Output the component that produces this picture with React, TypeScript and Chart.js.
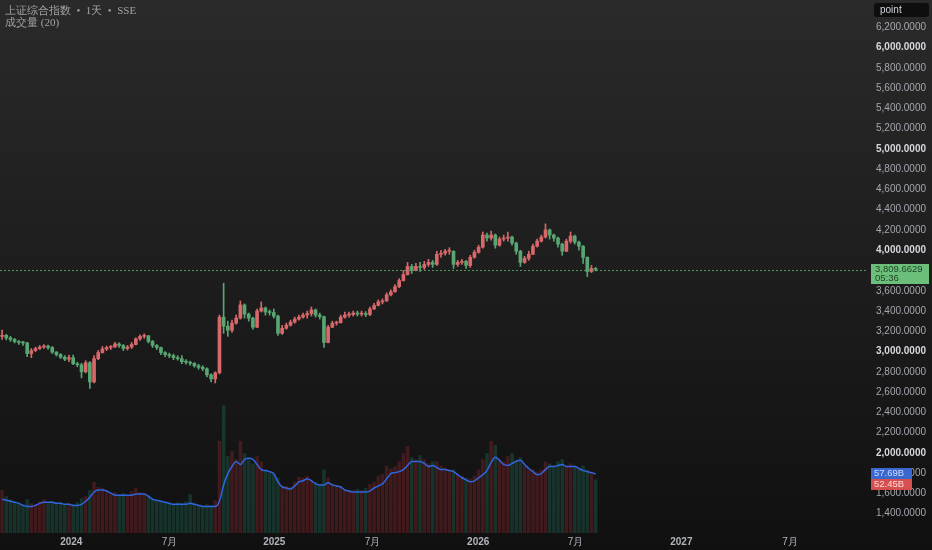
import React, { useEffect, useRef } from "react";
import { Chart, registerables } from "chart.js";
Chart.register(...registerables);

const opens = [3150,3160,3135,3120,3100,3090,3085,2980,3010,3030,3045,3055,3040,2995,2970,2945,2925,2940,2880,2870,2800,2890,2700,2930,2990,3025,3040,3045,3075,3060,3030,3045,3070,3125,3150,3155,3100,3060,3040,2990,2970,2960,2940,2930,2900,2895,2885,2860,2845,2830,2770,2730,2790,3340,3250,3210,3280,3330,3460,3370,3330,3240,3400,3430,3390,3385,3350,3180,3230,3260,3290,3320,3340,3360,3375,3410,3360,3345,3090,3240,3280,3285,3340,3360,3365,3380,3370,3375,3365,3420,3455,3490,3500,3560,3590,3640,3700,3760,3840,3800,3840,3830,3860,3880,3860,3960,3970,3990,3990,3860,3880,3890,3850,3930,3980,4030,4150,4120,4150,4050,4110,4120,4130,4070,3990,3880,3920,3960,4040,4090,4130,4200,4150,4120,4060,3990,4090,4140,4080,4040,3930,3790,3820];
const highs = [3213,3170,3150,3130,3110,3100,3090,3030,3045,3060,3070,3065,3050,3000,2980,2960,2965,2965,2895,2885,2910,2900,2960,3010,3050,3055,3060,3090,3085,3070,3060,3090,3135,3165,3175,3160,3110,3070,3045,3000,2985,2975,2960,2960,2920,2905,2890,2875,2860,2840,2780,2800,3360,3674,3300,3310,3360,3500,3470,3380,3340,3420,3490,3440,3410,3420,3360,3260,3280,3310,3340,3360,3380,3400,3440,3420,3380,3350,3260,3300,3300,3360,3390,3390,3400,3400,3400,3395,3440,3475,3510,3520,3580,3610,3660,3720,3800,3880,3860,3870,3880,3890,3910,3900,3990,4000,4010,4025,3995,3900,3910,3900,3950,4000,4050,4180,4170,4190,4160,4130,4150,4180,4140,4080,4000,3940,3990,4060,4110,4150,4260,4210,4160,4130,4070,4110,4180,4150,4090,4045,3935,3850,3830];
const lows = [3120,3115,3100,3085,3070,3060,2950,2940,3000,3020,3030,3020,2980,2955,2930,2910,2900,2870,2850,2740,2790,2635,2690,2920,2985,3010,3020,3040,3040,3010,3015,3030,3065,3110,3130,3085,3040,3020,2970,2950,2940,2920,2915,2880,2875,2865,2845,2825,2810,2750,2700,2690,2780,3180,3150,3190,3270,3320,3330,3300,3220,3235,3390,3360,3360,3330,3160,3170,3220,3250,3280,3310,3330,3330,3350,3340,3320,3040,3085,3235,3260,3280,3330,3340,3350,3350,3350,3345,3355,3415,3450,3470,3495,3550,3585,3630,3695,3755,3770,3795,3790,3810,3840,3830,3850,3930,3950,3960,3820,3840,3860,3820,3830,3920,3970,4020,4090,4100,4020,4040,4090,4090,4050,3960,3840,3870,3900,3955,4030,4080,4120,4110,4090,4030,3950,3985,4070,4060,4000,3870,3740,3780,3795];
const closes = [3160,3135,3120,3100,3090,3085,2980,3010,3030,3045,3055,3040,2995,2970,2945,2925,2940,2880,2870,2800,2890,2700,2930,2990,3025,3040,3045,3075,3060,3030,3045,3070,3125,3150,3155,3100,3060,3040,2990,2970,2960,2940,2930,2900,2895,2885,2860,2845,2830,2770,2730,2790,3340,3250,3210,3280,3330,3460,3370,3330,3240,3400,3430,3390,3385,3350,3180,3230,3260,3290,3320,3340,3360,3375,3410,3360,3345,3090,3240,3280,3285,3340,3360,3365,3380,3370,3375,3365,3420,3455,3490,3500,3560,3590,3640,3700,3760,3840,3800,3840,3830,3860,3880,3860,3960,3970,3990,3990,3860,3880,3890,3850,3930,3980,4030,4150,4120,4150,4050,4110,4120,4130,4070,3990,3880,3920,3960,4040,4090,4130,4200,4150,4120,4060,3990,4090,4140,4080,4040,3930,3790,3820,3809.6629];
// Volume (billions) and its 20-day moving average
const volumes = [42,36,33,31,30,28,33,29,28,31,33,30,31,29,30,28,29,28,30,34,36,42,50,45,44,40,38,40,36,39,37,41,44,40,39,36,33,32,31,30,29,28,30,29,31,38,30,28,27,28,27,32,90,125,75,80,72,90,78,72,68,75,70,62,60,58,54,47,46,45,50,55,54,56,52,50,48,62,54,48,47,46,43,42,42,43,42,44,48,50,56,58,66,63,65,70,78,85,74,72,76,72,68,70,70,66,64,62,62,58,56,54,53,56,62,72,78,90,86,72,70,75,78,72,74,66,62,62,60,62,70,68,66,70,72,66,68,66,64,66,62,60,52.45];
const volumeMA = [33,32,31,30,29,27,26,26,27,29,30,30,30,29,29,28,28,27,27,28,31,35,40,42,42,41,39,37,37,37,37,37,38,38,38,36,33,32,31,30,29,28,28,28,28,29,28,27,26,26,26,26,31,47,58,65,70,67,72,73,72,67,62,61,60,58,50,45,44,43,46,50,51,53,51,48,47,47,49,47,46,45,42,41,40,40,40,40,41,44,46,48,53,58,59,60,62,66,70,70,70,68,65,66,64,62,62,61,60,57,54,52,50,51,54,57,61,69,74,71,67,66,68,70,71,67,63,60,57,58,62,65,65,66,67,65,65,65,63,61,60,59,57.69];

const xTickPos = [17.06, 40.55, 65.62, 89.11, 114.4, 137.66, 163.0, 189.0];
const xTickLabels = ["2024", "7月", "2025", "7月", "2026", "7月", "2027", "7月"];
const priceTicks = [1400,1600,1800,2000,2200,2400,2600,2800,3000,3200,3400,3600,3800,4000,4200,4400,4600,4800,5000,5200,5400,5600,5800,6000,6200];

const UP = "#d9686a";
const DOWN = "#58a672";
const VOL_UP = "rgba(140,40,45,0.38)";
const VOL_DOWN = "rgba(35,105,88,0.38)";
const FONT = "'Liberation Sans', Arial, sans-serif";

export default function App() {
  const ref = useRef<HTMLCanvasElement>(null);
  useEffect(() => {
    const canvas = ref.current!;
    const xs = closes.map((_, i) => i + 0.5);
    const isUp = closes.map((c, i) => c >= opens[i]);
    const lastClose = closes[closes.length - 1];
    const lastVol = volumes[volumes.length - 1];
    const lastMA = volumeMA[volumeMA.length - 1];

    const overlay = {
      id: "overlay",
      afterDatasetsDraw(chart: any) {
        const { ctx, chartArea, scales } = chart;
        const y = Math.round(scales.y.getPixelForValue(lastClose)) + 0.5;
        ctx.save();
        ctx.strokeStyle = "#4f9a5c";
        ctx.lineWidth = 1;
        ctx.setLineDash([2, 2]);
        ctx.beginPath();
        ctx.moveTo(chartArea.left, y);
        ctx.lineTo(chartArea.right, y);
        ctx.stroke();
        ctx.restore();
      },
      afterDraw(chart: any) {
        const { ctx, chartArea, scales } = chart;
        const x0 = chartArea.right + 2;
        ctx.save();
        // "point" box
        ctx.fillStyle = "#0e0e0e";
        ctx.beginPath();
        (ctx as any).roundRect(874, 3, 55, 14, 3);
        ctx.fill();
        ctx.fillStyle = "#d1d4dc";
        ctx.font = `10px ${FONT}`;
        ctx.textBaseline = "middle";
        ctx.textAlign = "left";
        ctx.fillText("point", 880, 10.5);
        // last price box
        const py = scales.y.getPixelForValue(lastClose);
        ctx.fillStyle = "#6cbf7a";
        ctx.fillRect(x0 + 1, py - 5.5, 58, 20);
        ctx.fillStyle = "#1f4526";
        ctx.font = `9.5px ${FONT}`;
        ctx.fillText(lastClose.toLocaleString("en-US", { minimumFractionDigits: 4, maximumFractionDigits: 4 }), x0 + 5, py);
        ctx.fillText("05:36", x0 + 5, py + 9);
        // volume boxes
        const my = scales.vol.getPixelForValue(lastMA);
        ctx.fillStyle = "#3a68cf";
        ctx.fillRect(x0 + 1, my - 6, 41, 11);
        ctx.fillStyle = "#c9dbff";
        ctx.font = `9.5px ${FONT}`;
        ctx.fillText(lastMA.toFixed(2) + "B", x0 + 4, my - 0.5);
        const vy = my + 5;
        ctx.fillStyle = "#d6504f";
        ctx.fillRect(x0 + 1, vy, 41, 11);
        ctx.fillStyle = "#ffd9d9";
        ctx.fillText(lastVol.toFixed(2) + "B", x0 + 4, vy + 5.5);
        ctx.restore();
      },
    };

    const zeroPad = (scale: any) => {
      scale.paddingTop = 0;
      scale.paddingBottom = 0;
      scale.paddingLeft = 0;
      scale.paddingRight = 0;
    };

    const chart = new Chart(canvas, {
      type: "bar",
      data: {
        datasets: [
          {
            type: "bar",
            order: 4,
            yAxisID: "vol",
            grouped: false,
            data: xs.map((x, i) => ({ x, y: volumes[i] })),
            backgroundColor: isUp.map((u) => (u ? VOL_UP : VOL_DOWN)),
            barPercentage: 0.85,
            categoryPercentage: 1,
            borderWidth: 0,
          } as any,
          {
            type: "line",
            order: 3,
            yAxisID: "vol",
            data: xs.map((x, i) => ({ x, y: volumeMA[i] })),
            borderColor: "#2f66e0",
            borderWidth: 1.5,
            pointRadius: 0,
            tension: 0.4,
            cubicInterpolationMode: "monotone",
          } as any,
          {
            type: "bar",
            order: 2,
            yAxisID: "y",
            grouped: false,
            data: xs.map((x, i) => ({ x, y: [lows[i], highs[i]] })),
            backgroundColor: isUp.map((u) => (u ? UP : DOWN)),
            barThickness: 1,
            borderWidth: 0,
          } as any,
          {
            type: "bar",
            order: 1,
            yAxisID: "y",
            grouped: false,
            data: xs.map((x, i) => ({ x, y: [opens[i], closes[i]] })),
            backgroundColor: isUp.map((u) => (u ? UP : DOWN)),
            barThickness: 3,
            minBarLength: 1,
            borderWidth: 0,
          } as any,
        ],
      },
      options: {
        animation: false,
        responsive: false,
        maintainAspectRatio: false,
        layout: { padding: 0 },
        plugins: { legend: { display: false }, tooltip: { enabled: false } },
        scales: {
          x: {
            type: "linear",
            min: 0,
            max: 868 / 4.18,
            offset: false,
            grid: { display: false, drawTicks: false },
            border: { display: false },
            afterBuildTicks: (scale: any) => {
              scale.ticks = xTickPos.map((v) => ({ value: v }));
            },
            afterFit: (scale: any) => {
              scale.height = 17;
              zeroPad(scale);
            },
            ticks: {
              autoSkip: false,
              maxRotation: 0,
              padding: 3,
              color: "#b2b5be",
              font: (c: any) => ({ size: 10, family: FONT, weight: /^\d{4}$/.test(xTickLabels[c.index] || "") ? "bold" : "normal" }),
              callback: (_v: any, i: number) => xTickLabels[i],
            },
          },
          y: {
            type: "linear",
            position: "right",
            min: 1209.4,
            max: 6469.4,
            grid: { display: false, drawTicks: false },
            border: { display: false },
            afterBuildTicks: (scale: any) => {
              scale.ticks = priceTicks.map((v) => ({ value: v }));
            },
            afterFit: (scale: any) => {
              scale.width = 64;
              zeroPad(scale);
            },
            ticks: {
              padding: 8,
              color: (c: any) => (c.tick && c.tick.value % 1000 === 0 ? "#d6d8de" : "#a4a7ae"),
              font: (c: any) => ({ size: 10, family: FONT, weight: c.tick && c.tick.value % 1000 === 0 ? "bold" : "normal" }),
              callback: (v: any) => Number(v).toLocaleString("en-US", { minimumFractionDigits: 4, maximumFractionDigits: 4 }),
            },
          },
          vol: {
            type: "linear",
            display: false,
            min: 0,
            max: 521,
          },
        },
      } as any,
      plugins: [overlay],
    });
    return () => chart.destroy();
  }, []);

  return (
    <div
      style={{
        position: "fixed",
        left: 0,
        top: 0,
        width: 932,
        height: 550,
        background: "linear-gradient(#2a2a2a, #101010)",
        overflow: "hidden",
      }}
    >
      <canvas ref={ref} width={932} height={550} style={{ position: "absolute", left: 0, top: 0, width: 932, height: 550 }} />
      <div
        style={{
          position: "absolute",
          left: 5,
          top: 4,
          color: "#a3a3a3",
          fontSize: 11,
          lineHeight: "12px",
          fontFamily: "serif",
          whiteSpace: "pre",
        }}
      >
        {"上证综合指数  •  1天  •  SSE"}
        <br />
        {"成交量 (20)"}
      </div>
    </div>
  );
}
